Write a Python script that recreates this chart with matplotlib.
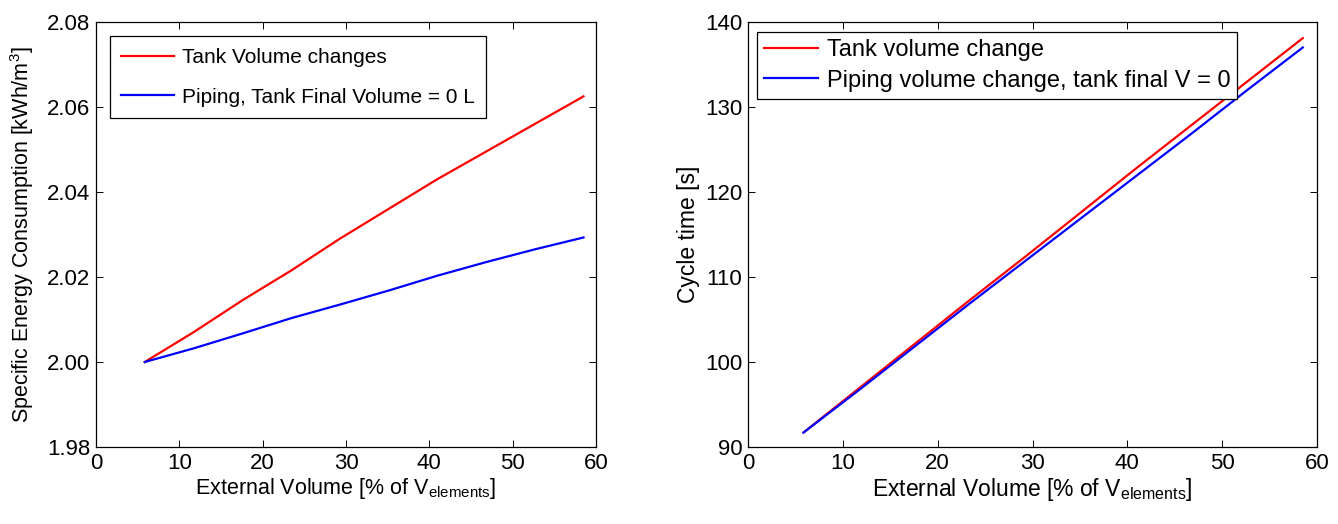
import matplotlib
matplotlib.use("Agg")
import matplotlib.pyplot as plt

plt.rcParams['font.family'] = ['Liberation Sans', 'DejaVu Sans']
plt.rcParams['mathtext.fontset'] = 'custom'
plt.rcParams['mathtext.rm'] = 'Liberation Sans'

ext_vol = [5.85, 11.7, 17.55, 23.4, 29.25, 35.1, 40.95, 46.8, 52.65, 58.5]

sec_tank = [2.000, 2.007, 2.0145, 2.0215, 2.029, 2.036, 2.043, 2.0495, 2.056, 2.0625]
sec_pipe = [2.000, 2.0032, 2.0067, 2.0103, 2.0135, 2.0168, 2.0203, 2.0235, 2.0265, 2.0293]

cyc_tank = [91.7, 96.9, 102.1, 107.3, 112.4, 117.6, 122.8, 127.9, 133.0, 138.1]
cyc_pipe = [91.7, 96.7, 101.8, 106.9, 111.9, 116.9, 121.9, 126.9, 132.0, 137.0]

W, H = 1338, 524
fig = plt.figure(figsize=(W / 100, H / 100), dpi=100)
ax1 = fig.add_axes([96 / W, (H - 447) / H, 500 / W, 425 / H])
ax2 = fig.add_axes([748 / W, (H - 447) / H, 569 / W, 425 / H])

xlab = r'External Volume [% of V$_{\mathregular{elements}}$]'

# left panel
ax1.plot(ext_vol, sec_tank, color='#ff0000', lw=1.6, label='Tank Volume changes')
ax1.plot(ext_vol, sec_pipe, color='#0000ff', lw=1.6, label='Piping, Tank Final Volume = 0 L')
ax1.set_xlim(0, 60)
ax1.set_ylim(1.98, 2.08)
ax1.set_xticks([0, 10, 20, 30, 40, 50, 60])
ax1.set_yticks([1.98, 2.00, 2.02, 2.04, 2.06, 2.08])
ax1.set_yticklabels(['1.98', '2.00', '2.02', '2.04', '2.06', '2.08'])
ax1.set_xlabel(xlab, fontsize=15.5, labelpad=2)
ax1.set_ylabel(r'Specific Energy Consumption [kWh/m$^\mathregular{3}$]', fontsize=15.5, labelpad=8)
leg1 = ax1.legend(loc='upper left', fontsize=15, fancybox=False, framealpha=1,
                  edgecolor='black', handlelength=2.5, handletextpad=0.4, borderpad=0.55,
                  labelspacing=1.0, borderaxespad=0, bbox_to_anchor=(0.028, 0.966))
leg1.get_frame().set_linewidth(0.9)

# right panel
ax2.plot(ext_vol, cyc_tank, color='#ff0000', lw=1.6, label='Tank volume change')
ax2.plot(ext_vol, cyc_pipe, color='#0000ff', lw=1.6, label='Piping volume change, tank final V = 0')
ax2.set_xlim(0, 60)
ax2.set_ylim(90, 140)
ax2.set_xticks([0, 10, 20, 30, 40, 50, 60])
ax2.set_yticks([90, 100, 110, 120, 130, 140])
ax2.set_xlabel(xlab, fontsize=16.5, labelpad=2)
ax2.set_ylabel('Cycle time [s]', fontsize=16.5, labelpad=4)
leg2 = ax2.legend(loc='upper left', fontsize=17, fancybox=False,
                  framealpha=1, edgecolor='black', handlelength=2.3, handletextpad=0.35,
                  borderpad=0.3, labelspacing=0.35, borderaxespad=0,
                  bbox_to_anchor=(0.016, 0.976))
leg2.get_frame().set_linewidth(0.9)

for ax in (ax1, ax2):
    ax.tick_params(direction='in', top=True, right=True, length=5, width=0.7,
                   labelsize=16, pad=4)
    for s in ax.spines.values():
        s.set_linewidth(0.9)

fig.savefig('out.png', dpi=100)
